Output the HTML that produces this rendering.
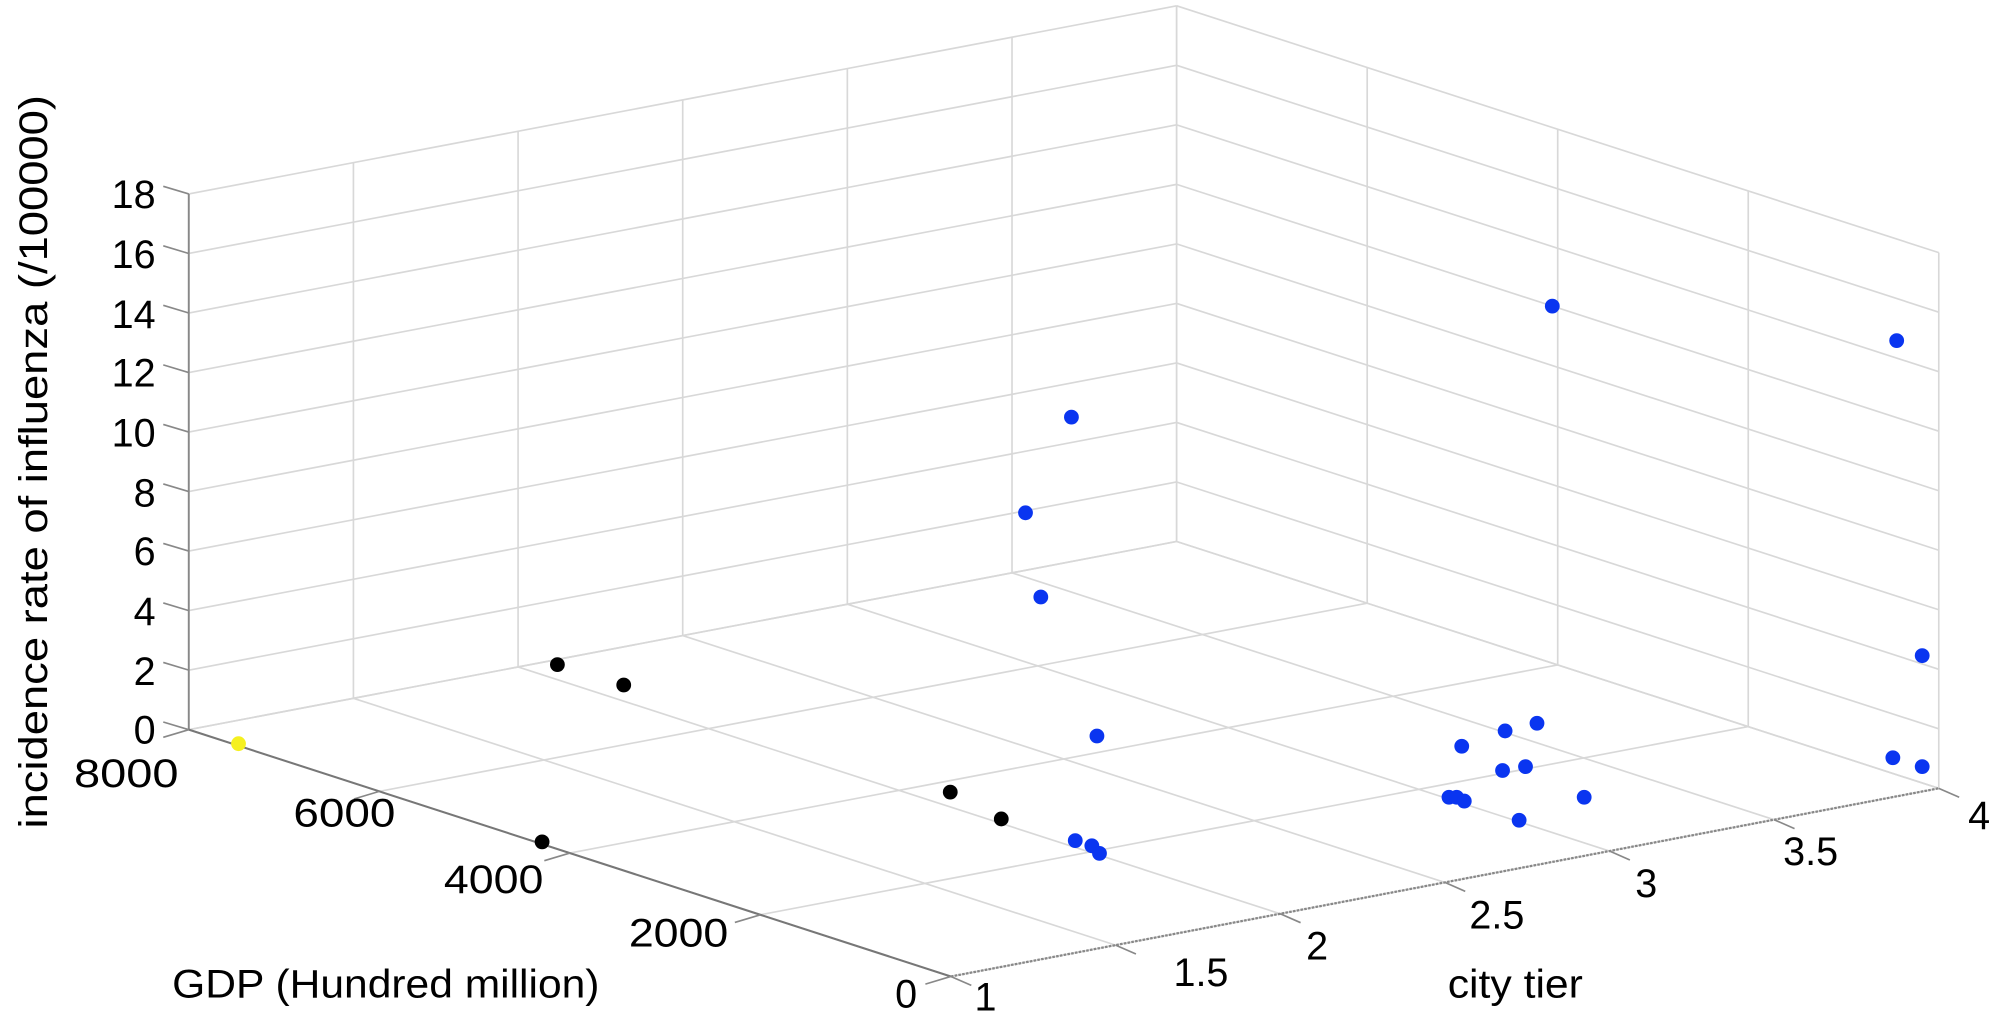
<!DOCTYPE html>
<html><head><meta charset="utf-8"><style>
html,body{margin:0;padding:0;background:#fff;}
svg{display:block;}
text{font-family:"Liberation Sans",sans-serif;fill:#000;}
</style></head><body>
<svg width="2000" height="1021" viewBox="0 0 1568 800.4" preserveAspectRatio="none" xmlns="http://www.w3.org/2000/svg">
<rect width="1568" height="801" fill="#fff"/>
<g id="grid" stroke="#d8d8d8" stroke-width="1.3" fill="none"></g>
<g id="axes"></g>
<g id="pts"></g>
<g font-size="31">
<text x="122" y="163" text-anchor="end">18</text>
<text x="122" y="210" text-anchor="end">16</text>
<text x="122" y="257" text-anchor="end">14</text>
<text x="122" y="303" text-anchor="end">12</text>
<text x="122" y="350" text-anchor="end">10</text>
<text x="122" y="397" text-anchor="end">8</text>
<text x="122" y="443" text-anchor="end">6</text>
<text x="122" y="490" text-anchor="end">4</text>
<text x="122" y="537" text-anchor="end">2</text>
<text x="122" y="583" text-anchor="end">0</text>
<text x="140" y="617" text-anchor="end" textLength="82" lengthAdjust="spacingAndGlyphs">8000</text>
<text x="310" y="648" text-anchor="end" textLength="80" lengthAdjust="spacingAndGlyphs">6000</text>
<text x="426" y="700" text-anchor="end" textLength="78" lengthAdjust="spacingAndGlyphs">4000</text>
<text x="571" y="742" text-anchor="end" textLength="78" lengthAdjust="spacingAndGlyphs">2000</text>
<text x="719" y="790" text-anchor="end">0</text>
<text x="764" y="792">1</text>
<text x="920" y="773">1.5</text>
<text x="1024" y="752">2</text>
<text x="1152" y="728">2.5</text>
<text x="1282" y="703">3</text>
<text x="1398" y="678">3.5</text>
<text x="1543" y="650">4</text>
<text x="135" y="782" textLength="335" lengthAdjust="spacingAndGlyphs">GDP (Hundred million)</text>
<text x="1135" y="782" textLength="106" lengthAdjust="spacingAndGlyphs">city tier</text>
<text transform="translate(37,362) rotate(-90)" text-anchor="middle" textLength="575" lengthAdjust="spacingAndGlyphs">incidence rate of influenza (/100000)</text>
</g>
<script>
function P(t,g,z){return [148+(t-1)/3*774.5+(8000-g)/8000*597.5, 572-(t-1)/3*147.5+(8000-g)/8000*193.5-z*23.33];}
var NS="http://www.w3.org/2000/svg";
function L(par,a,b,st,w,d){var l=document.createElementNS(NS,"line");l.setAttribute("x1",a[0]);l.setAttribute("y1",a[1]);l.setAttribute("x2",b[0]);l.setAttribute("y2",b[1]);if(st)l.setAttribute("stroke",st);if(w)l.setAttribute("stroke-width",w);if(d)l.setAttribute("stroke-dasharray",d);document.getElementById(par).appendChild(l);}
for(var z=0;z<=18;z+=2){L("grid",P(1,8000,z),P(4,8000,z));L("grid",P(4,8000,z),P(4,0,z));}
for(var t=1;t<=4.001;t+=0.5){L("grid",P(t,8000,0),P(t,8000,18));L("grid",P(t,8000,0),P(t,0,0));}
for(var g=0;g<=8000;g+=2000){L("grid",P(4,g,0),P(4,g,18));L("grid",P(1,g,0),P(4,g,0));}
L("axes",P(1,8000,0),P(1,8000,18),"#888",1.5);
L("axes",P(1,8000,0),P(1,0,0),"#777",1.6);
L("axes",P(1,0,0),P(4,0,0),"#888",1.8,"2,1");
for(var z=0;z<=18;z+=2){var a=P(1,8000,z);L("axes",a,[a[0]-20,a[1]-6],"#888",1.3);}
for(var g=0;g<=8000;g+=2000){var a=P(1,g,0);L("axes",a,[a[0]-20,a[1]+6],"#888",1.3);}
for(var t=1;t<=4.001;t+=0.5){var a=P(t,0,0);L("axes",a,[a[0]+16,a[1]+7],"#888",1.3);}
var blue=[[840,327],[804,402],[816,468],[860,577],[843,659],[856,663],[862,669],[1217,240],[1487,267],[1507,514],[1484,594],[1507,601],[1146,585],[1180,573],[1205,567],[1178,604],[1196,601],[1242,625],[1136,625],[1142,625],[1148,628],[1191,643]];
var black=[[437,521],[489,537],[745,621],[785,642],[425,660]];
function C(p,c){var e=document.createElementNS(NS,"circle");e.setAttribute("cx",p[0]);e.setAttribute("cy",p[1]);e.setAttribute("r",5.8);e.setAttribute("fill",c);document.getElementById("pts").appendChild(e);}
blue.forEach(function(p){C(p,"#0a35f0");});
black.forEach(function(p){C(p,"#000");});
C([187,583],"#f5f020");
</script>
</svg>
</body></html>
